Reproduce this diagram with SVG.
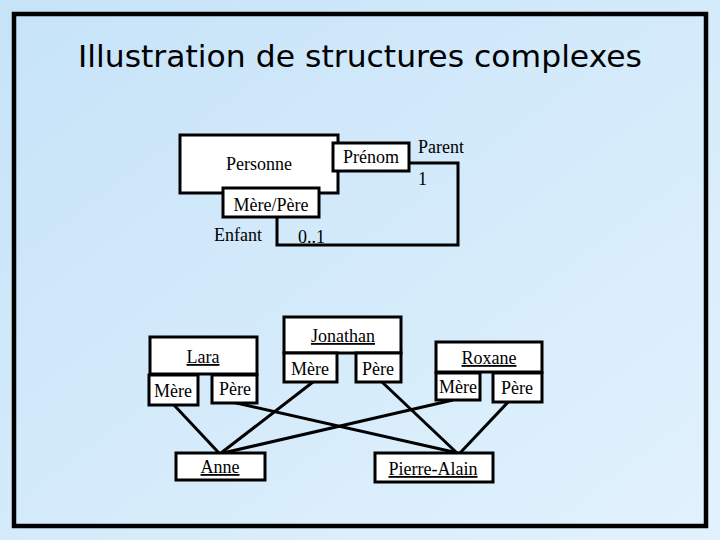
<svg xmlns="http://www.w3.org/2000/svg" width="720" height="540" viewBox="0 0 720 540">
<defs>
<linearGradient id="bg" x1="0" y1="0" x2="1" y2="1">
<stop offset="0" stop-color="#c6e3f8"/>
<stop offset="1" stop-color="#e2f2fd"/>
</linearGradient>
<style>
.box{fill:#ffffff;stroke:#000000;stroke-width:3}
.t{font-family:"Liberation Serif","Times New Roman",serif;font-size:18px;fill:#000000}
.c{text-anchor:middle}
.u{text-decoration:underline}
.ln{fill:none;stroke:#000000;stroke-width:3}
</style>
</defs>
<rect x="0" y="0" width="720" height="540" fill="url(#bg)"/>
<rect x="14" y="14" width="692" height="512" fill="none" stroke="#000000" stroke-width="4.5"/>
<text x="360" y="67" text-anchor="middle" font-family="'Comic Sans MS','DejaVu Sans',sans-serif" font-size="31" textLength="564" lengthAdjust="spacingAndGlyphs" fill="#000000">Illustration de structures complexes</text>

<g id="connectors">
<polyline class="ln" points="409,163 458,163 458,245 277,245 277,217"/>
<line class="ln" x1="173" y1="404" x2="219" y2="453"/>
<line class="ln" x1="313" y1="382" x2="221" y2="453"/>
<line class="ln" x1="453" y1="400" x2="223" y2="453"/>
<line class="ln" x1="232" y1="402" x2="458" y2="453"/>
<line class="ln" x1="382" y1="382" x2="457" y2="453"/>
<line class="ln" x1="509" y1="401" x2="460" y2="453"/>
</g>

<g id="personne">
<rect class="box" x="180" y="135" width="158" height="58"/>
<text class="t c" x="259" y="170">Personne</text>
</g>
<g id="prenom">
<rect class="box" x="333" y="143" width="76" height="28"/>
<text class="t c" x="371" y="163">Prénom</text>
</g>
<g id="mere-pere">
<rect class="box" x="223" y="188" width="96" height="29"/>
<text class="t c" x="271" y="211">Mère/Père</text>
</g>
<g id="labels-top">
<text class="t" x="418" y="153">Parent</text>
<text class="t" x="418" y="185">1</text>
<text class="t" x="214" y="241">Enfant</text>
<text class="t" x="298" y="243">0..1</text>
</g>

<g id="lara">
<rect class="box" x="150" y="337" width="107" height="37"/>
<text class="t c u" x="203" y="363">Lara</text>
</g>
<g id="lara-mere">
<rect class="box" x="149" y="375" width="49" height="30"/>
<text class="t c" x="173" y="397">Mère</text>
</g>
<g id="lara-pere">
<rect class="box" x="212" y="375" width="45" height="28"/>
<text class="t c" x="235" y="395">Père</text>
</g>

<g id="jonathan">
<rect class="box" x="284" y="317" width="117" height="36"/>
<text class="t c u" x="343" y="342">Jonathan</text>
</g>
<g id="jonathan-mere">
<rect class="box" x="284" y="353" width="53" height="29"/>
<text class="t c" x="310" y="375">Mère</text>
</g>
<g id="jonathan-pere">
<rect class="box" x="356" y="353" width="45" height="29"/>
<text class="t c" x="378" y="375">Père</text>
</g>

<g id="roxane">
<rect class="box" x="436" y="342" width="106" height="30"/>
<text class="t c u" x="489" y="364">Roxane</text>
</g>
<g id="roxane-mere">
<rect class="box" x="436" y="373" width="44" height="27"/>
<text class="t c" x="458" y="393">Mère</text>
</g>
<g id="roxane-pere">
<rect class="box" x="493" y="373" width="49" height="29"/>
<text class="t c" x="517" y="394">Père</text>
</g>

<g id="anne">
<rect class="box" x="176" y="453" width="89" height="27"/>
<text class="t c u" x="220" y="473">Anne</text>
</g>
<g id="pierre-alain">
<rect class="box" x="375" y="453" width="118" height="29"/>
<text class="t c u" x="433" y="475">Pierre-Alain</text>
</g>
</svg>
